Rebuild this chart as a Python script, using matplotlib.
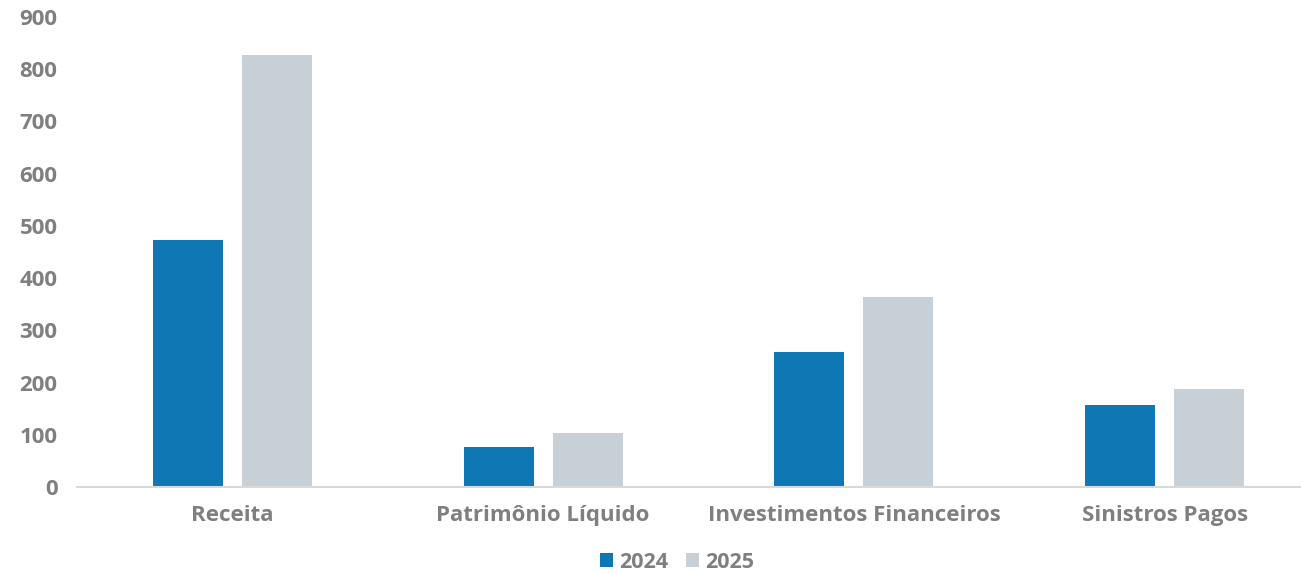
import matplotlib.pyplot as plt
import numpy as np

categories = ["Receita", "Patrimônio Líquido", "Investimentos Financeiros", "Sinistros Pagos"]
values_2024 = [473, 77, 259, 157]
values_2025 = [828, 104, 363, 187]
series_labels = ["2024", "2025"]

color_2024 = "#0F78B4"
color_2025 = "#C7D0D6"
text_color = "#7F7F7F"

plt.rcParams["font.family"] = ["Open Sans", "DejaVu Sans"]
plt.rcParams["font.weight"] = "bold"

fig = plt.figure(figsize=(13.01, 5.73), dpi=100)
ax = fig.add_axes([77 / 1301, 86 / 573, 1243 / 1301, 470 / 573])

x = np.arange(len(categories))
width = 0.225
offset = 0.143
ax.bar(x - offset, values_2024, width, color=color_2024, label=series_labels[0])
ax.bar(x + offset, values_2025, width, color=color_2025, label=series_labels[1])

ax.set_xlim(-0.5, 3.5)
ax.set_ylim(0, 900)
ax.set_yticks(range(0, 901, 100))
ax.set_xticks(x)
ax.set_xticklabels(categories)

for side in ["top", "right", "left"]:
    ax.spines[side].set_visible(False)
ax.spines["bottom"].set_color("#D9D9D9")
ax.spines["bottom"].set_linewidth(1.5)
ax.tick_params(axis="both", length=0, labelsize=16, labelcolor=text_color)
ax.tick_params(axis="x", pad=13)
ax.tick_params(axis="y", pad=14)
for lab in ax.get_xticklabels() + ax.get_yticklabels():
    lab.set_fontweight("bold")

fig.legend(loc="center", bbox_to_anchor=(677 / 1301, 1 - 562 / 573), ncol=2,
           frameon=False, handlelength=0.6, handleheight=0.6, handletextpad=0.3,
           columnspacing=0.8, prop={"size": 15.5, "weight": "bold"}, labelcolor=text_color)

fig.savefig("out.png", dpi=100)
